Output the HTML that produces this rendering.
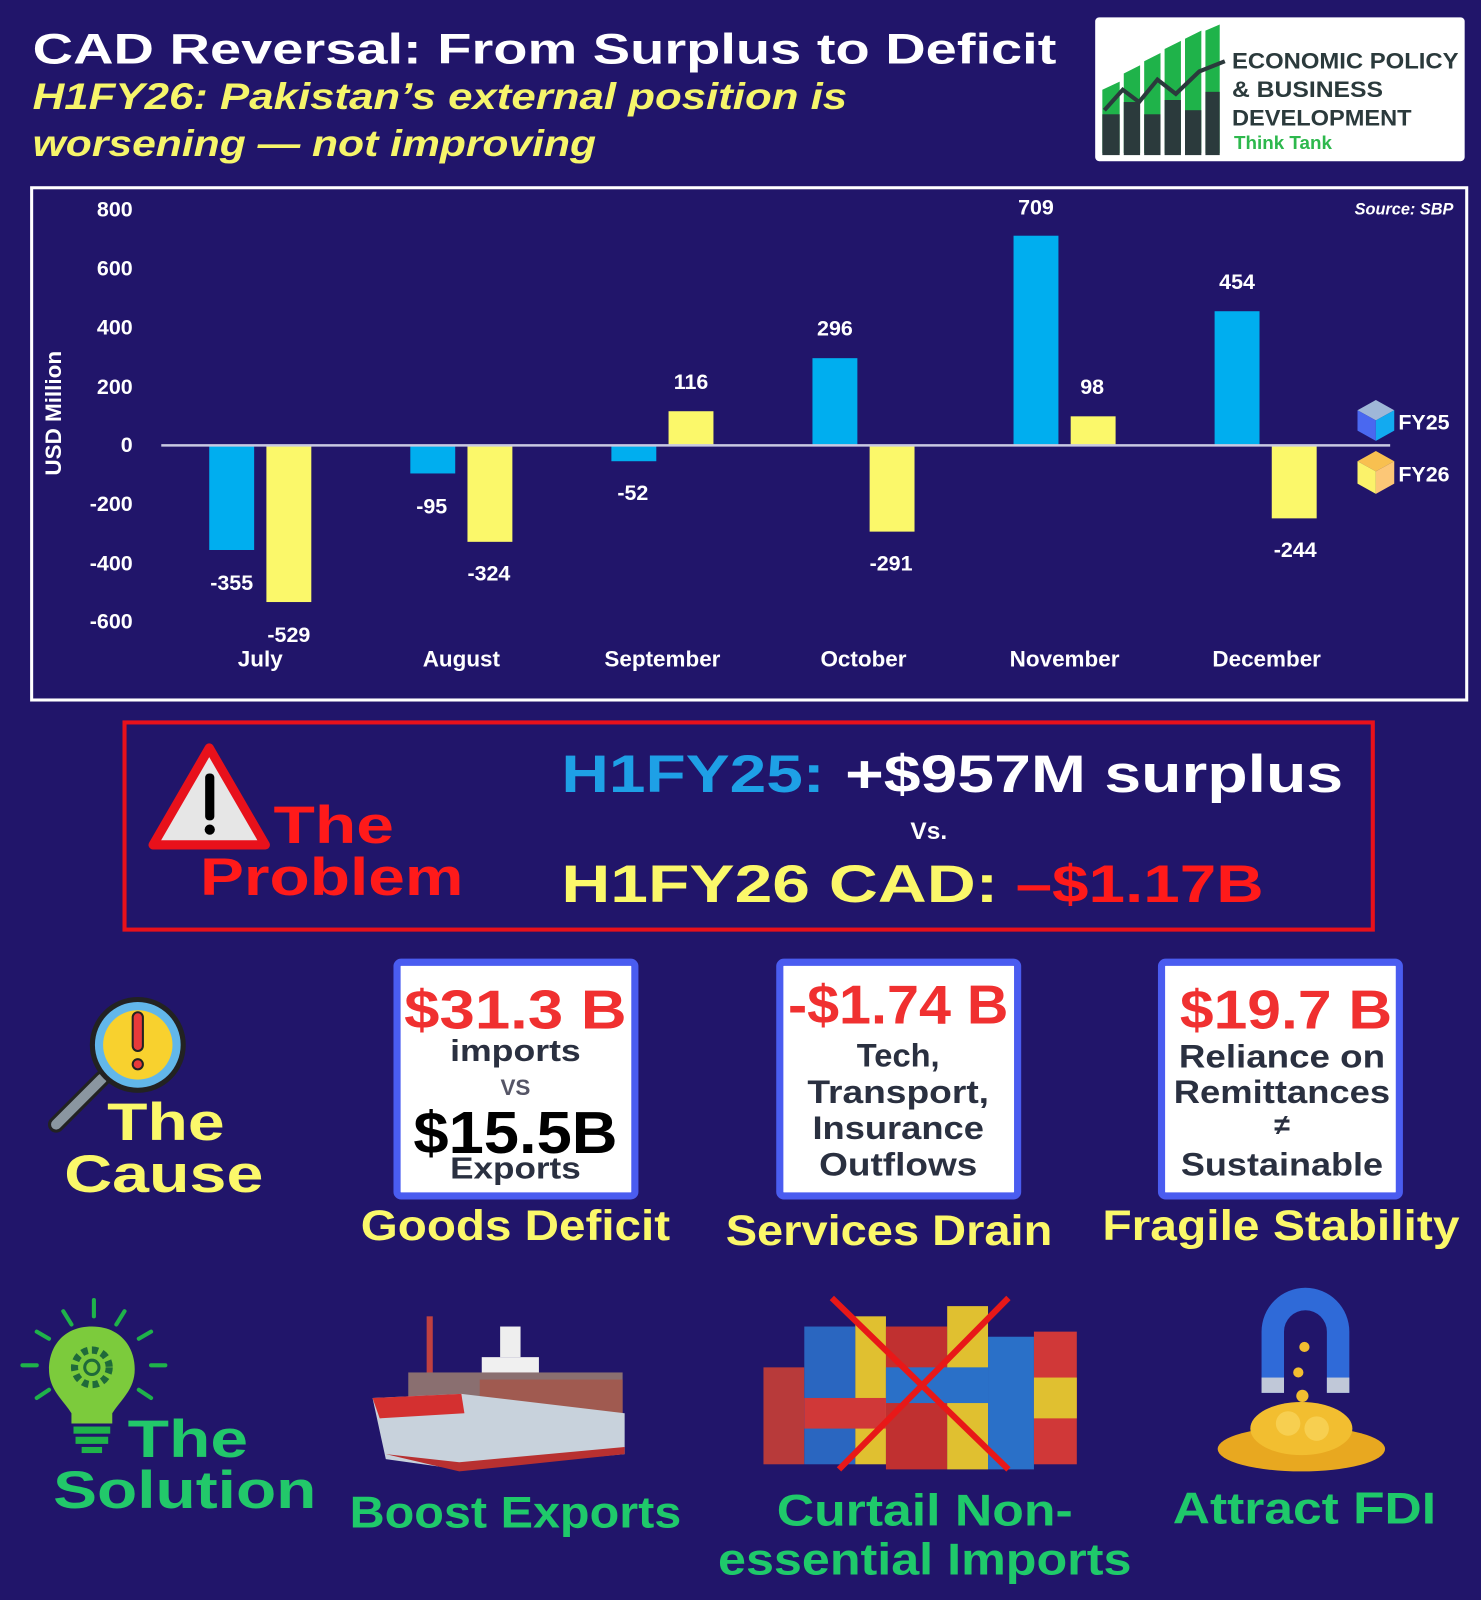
<!DOCTYPE html>
<html><head><meta charset="utf-8"><style>
html,body{margin:0;padding:0;background:#21156a;}
svg{display:block;}
text{font-family:"Liberation Sans",sans-serif;font-weight:bold;}
</style></head><body>
<svg width="1481" height="1600" viewBox="0 0 1451 1568" preserveAspectRatio="none" xmlns="http://www.w3.org/2000/svg">
<rect width="1451" height="1568" fill="#21156a"/>
<!-- Title -->
<text x="32" y="62" font-size="42" fill="#fff" textLength="1003" lengthAdjust="spacingAndGlyphs">CAD Reversal: From Surplus to Deficit</text>
<text x="32" y="107" font-size="36" font-style="italic" fill="#f6f56b" textLength="798" lengthAdjust="spacingAndGlyphs">H1FY26: Pakistan’s external position is</text>
<text x="32" y="153" font-size="36" font-style="italic" fill="#f6f56b" textLength="552" lengthAdjust="spacingAndGlyphs">worsening — not improving</text>
<!-- Logo -->
<rect x="1073" y="17" width="362" height="141" rx="4" fill="#fff"/>
<g fill="#1fb34a">
<polygon points="1080,88 1097,80 1097,150 1080,150"/>
<polygon points="1101,72 1117,64 1117,150 1101,150"/>
<polygon points="1121,60 1137,52 1137,150 1121,150"/>
<polygon points="1141,48 1157,40 1157,150 1141,150"/>
<polygon points="1161,38 1177,30 1177,150 1161,150"/>
<polygon points="1181,30 1195,24 1195,150 1181,150"/>
</g>
<g fill="#2b3a3c">
<rect x="1080" y="112" width="17" height="40"/><rect x="1101" y="100" width="16" height="52"/>
<rect x="1121" y="112" width="16" height="40"/><rect x="1141" y="98" width="16" height="54"/>
<rect x="1161" y="108" width="16" height="44"/><rect x="1181" y="90" width="14" height="62"/>
</g>
<polyline points="1082,108 1100,88 1116,100 1134,78 1152,92 1175,70 1200,60" fill="none" stroke="#2b3a3c" stroke-width="4"/>
<text x="1207" y="67" font-size="22" fill="#2b3a3c" font-family="Liberation Mono" textLength="222" lengthAdjust="spacingAndGlyphs">ECONOMIC POLICY</text>
<text x="1207" y="95" font-size="22" fill="#2b3a3c" font-family="Liberation Mono" textLength="148" lengthAdjust="spacingAndGlyphs">&amp; BUSINESS</text>
<text x="1207" y="123" font-size="22" fill="#2b3a3c" font-family="Liberation Mono" textLength="176" lengthAdjust="spacingAndGlyphs">DEVELOPMENT</text>
<text x="1209" y="146" font-size="18" fill="#2db84d" font-weight="normal" textLength="96" lengthAdjust="spacingAndGlyphs">Think Tank</text>
<!-- Chart -->
<rect x="31" y="184" width="1406" height="502" fill="none" stroke="#fff" stroke-width="3"/>
<text x="1424" y="210" font-size="16" font-style="italic" fill="#fff" text-anchor="end">Source: SBP</text>
<g font-size="21" fill="#fff" text-anchor="end">
<text x="130" y="212">800</text><text x="130" y="270">600</text><text x="130" y="328">400</text>
<text x="130" y="386">200</text><text x="130" y="443">0</text><text x="130" y="501">-200</text>
<text x="130" y="559">-400</text><text x="130" y="616">-600</text>
</g>
<text transform="translate(60,405) rotate(-90)" font-size="22" fill="#fff" text-anchor="middle">USD Million</text>
<g fill="#00aeef">
<rect x="205" y="437" width="44" height="102"/>
<rect x="402" y="437" width="44" height="27"/>
<rect x="599" y="437" width="44" height="15"/>
<rect x="796" y="351" width="44" height="85"/>
<rect x="993" y="231" width="44" height="205"/>
<rect x="1190" y="305" width="44" height="131"/>
</g>
<g fill="#fbf86a">
<rect x="261" y="437" width="44" height="153"/>
<rect x="458" y="437" width="44" height="94"/>
<rect x="655" y="403" width="44" height="33"/>
<rect x="852" y="437" width="44" height="84"/>
<rect x="1049" y="408" width="44" height="28"/>
<rect x="1246" y="437" width="44" height="71"/>
</g>
<line x1="158" y1="436.5" x2="1362" y2="436.5" stroke="#c9c9e2" stroke-width="2.5"/>
<g font-size="21" fill="#fff" text-anchor="middle">
<text x="227" y="578">-355</text><text x="283" y="629">-529</text>
<text x="423" y="503">-95</text><text x="479" y="569">-324</text>
<text x="620" y="490">-52</text><text x="677" y="381">116</text>
<text x="818" y="329">296</text><text x="873" y="559">-291</text>
<text x="1015" y="210">709</text><text x="1070" y="386">98</text>
<text x="1212" y="283">454</text><text x="1269" y="546">-244</text>
</g>
<g font-size="22" fill="#fff" text-anchor="middle">
<text x="255" y="653">July</text><text x="452" y="653">August</text><text x="649" y="653">September</text>
<text x="846" y="653">October</text><text x="1043" y="653">November</text><text x="1241" y="653">December</text>
</g>
<!-- legend cubes -->
<polygon points="1348,392 1366,402 1348,412 1330,402" fill="#9fb7d8"/>
<polygon points="1330,402 1348,412 1348,432 1330,422" fill="#4a68f0"/>
<polygon points="1348,412 1366,402 1366,422 1348,432" fill="#12aaf0"/>
<text x="1370" y="421" font-size="21" fill="#fff">FY25</text>
<polygon points="1348,442 1366,452 1348,462 1330,452" fill="#f8c050"/>
<polygon points="1330,452 1348,462 1348,484 1330,474" fill="#fbf26a"/>
<polygon points="1348,462 1366,452 1366,474 1348,484" fill="#fcc777"/>
<text x="1370" y="472" font-size="21" fill="#fff">FY26</text>
<!-- Problem -->
<rect x="122" y="708" width="1223" height="203" fill="none" stroke="#e8111b" stroke-width="4"/>
<polygon points="205,733 150,828 260,828" fill="#e6e6e6" stroke="#e8111b" stroke-width="9" stroke-linejoin="round"/>
<rect x="201" y="758" width="9" height="46" rx="4" fill="#000"/>
<circle cx="205.5" cy="813" r="5" fill="#000"/>
<text x="268" y="826" font-size="52" fill="#ff1a1a" textLength="118" lengthAdjust="spacingAndGlyphs">The</text>
<text x="196" y="877" font-size="52" fill="#ff1a1a" textLength="258" lengthAdjust="spacingAndGlyphs">Problem</text>
<text x="550" y="776" font-size="52" fill="#1ea0e6" textLength="258" lengthAdjust="spacingAndGlyphs">H1FY25:</text>
<text x="828" y="776" font-size="52" fill="#fff" textLength="488" lengthAdjust="spacingAndGlyphs">+$957M surplus</text>
<text x="910" y="822" font-size="24" fill="#fff" text-anchor="middle">Vs.</text>
<text x="550" y="884" font-size="52" fill="#fbf86a" textLength="428" lengthAdjust="spacingAndGlyphs">H1FY26  CAD:</text>
<text x="995" y="884" font-size="52" fill="#ff1a1a" textLength="243" lengthAdjust="spacingAndGlyphs">–$1.17B</text>
<!-- Cause -->
<line x1="55" y1="1102" x2="100" y2="1057" stroke="#222" stroke-width="16" stroke-linecap="round"/>
<line x1="55" y1="1102" x2="100" y2="1057" stroke="#8a96a0" stroke-width="10" stroke-linecap="round"/>
<circle cx="135" cy="1024" r="47" fill="#222"/>
<circle cx="135" cy="1024" r="42" fill="#62b7ea"/>
<circle cx="135" cy="1024" r="34" fill="#f8d12e"/>
<rect x="130" y="992" width="10" height="38" rx="5" fill="#e83a3a" stroke="#222" stroke-width="2"/>
<circle cx="135" cy="1043" r="5" fill="#e83a3a" stroke="#222" stroke-width="2"/>
<text x="105" y="1117" font-size="52" fill="#fbf86a" textLength="115" lengthAdjust="spacingAndGlyphs">The</text>
<text x="63" y="1168" font-size="52" fill="#fbf86a" textLength="195" lengthAdjust="spacingAndGlyphs">Cause</text>
<g fill="#fff" stroke="#4a5cf0" stroke-width="7">
<rect x="389" y="943" width="233" height="229" rx="4"/>
<rect x="764" y="943" width="233" height="229" rx="4"/>
<rect x="1138" y="943" width="233" height="229" rx="4"/>
</g>
<g text-anchor="middle">
<text x="505" y="1008" font-size="54" fill="#f03030" textLength="218" lengthAdjust="spacingAndGlyphs">$31.3 B</text>
<text x="505" y="1040" font-size="30" fill="#2a3040" textLength="128" lengthAdjust="spacingAndGlyphs">imports</text>
<text x="505" y="1073" font-size="22" fill="#556" font-weight="normal">VS</text>
<text x="505" y="1130" font-size="58" fill="#000" textLength="200" lengthAdjust="spacingAndGlyphs">$15.5B</text>
<text x="505" y="1155" font-size="30" fill="#2a3040" textLength="128" lengthAdjust="spacingAndGlyphs">Exports</text>
<text x="880" y="1003" font-size="54" fill="#f03030" textLength="216" lengthAdjust="spacingAndGlyphs">-$1.74 B</text>
<text x="880" y="1045" font-size="32" fill="#2a3040">Tech,</text>
<text x="880" y="1081" font-size="32" fill="#2a3040" textLength="178" lengthAdjust="spacingAndGlyphs">Transport,</text>
<text x="880" y="1116" font-size="32" fill="#2a3040" textLength="168" lengthAdjust="spacingAndGlyphs">Insurance</text>
<text x="880" y="1152" font-size="32" fill="#2a3040" textLength="155" lengthAdjust="spacingAndGlyphs">Outflows</text>
<text x="1260" y="1008" font-size="54" fill="#f03030" textLength="208" lengthAdjust="spacingAndGlyphs">$19.7 B</text>
<text x="1256" y="1046" font-size="32" fill="#2a3040" textLength="202" lengthAdjust="spacingAndGlyphs">Reliance on</text>
<text x="1256" y="1081" font-size="32" fill="#2a3040" textLength="212" lengthAdjust="spacingAndGlyphs">Remittances</text>
<text x="1256" y="1112" font-size="28" fill="#2a3040">≠</text>
<text x="1256" y="1152" font-size="32" fill="#2a3040" textLength="198" lengthAdjust="spacingAndGlyphs">Sustainable</text>
<text x="505" y="1215" font-size="42" fill="#fbf86a" textLength="303" lengthAdjust="spacingAndGlyphs">Goods Deficit</text>
<text x="871" y="1220" font-size="42" fill="#fbf86a" textLength="320" lengthAdjust="spacingAndGlyphs">Services Drain</text>
<text x="1255" y="1215" font-size="42" fill="#fbf86a" textLength="350" lengthAdjust="spacingAndGlyphs">Fragile Stability</text>
</g>
<!-- Solution -->
<g stroke="#1fb34a" stroke-width="4" stroke-linecap="round">
<line x1="92" y1="1274" x2="92" y2="1290"/><line x1="62" y1="1285" x2="70" y2="1298"/><line x1="122" y1="1285" x2="114" y2="1298"/>
<line x1="36" y1="1305" x2="48" y2="1312"/><line x1="148" y1="1305" x2="136" y2="1312"/>
<line x1="22" y1="1338" x2="36" y2="1338"/><line x1="148" y1="1338" x2="162" y2="1338"/>
<line x1="36" y1="1370" x2="48" y2="1362"/><line x1="148" y1="1370" x2="136" y2="1362"/>
</g>
<path d="M90,1300 C62,1300 48,1320 48,1342 C48,1362 62,1372 70,1385 L70,1395 L110,1395 L110,1385 C118,1372 132,1362 132,1342 C132,1320 118,1300 90,1300Z" fill="#7ccb3c"/>
<circle cx="90" cy="1340" r="17" fill="none" stroke="#1f6a3a" stroke-width="7" stroke-dasharray="6 4"/>
<circle cx="90" cy="1340" r="7" fill="#7ccb3c" stroke="#1f6a3a" stroke-width="3"/>
<rect x="72" y="1398" width="36" height="7" fill="#1fb34a"/><rect x="74" y="1408" width="32" height="7" fill="#1fb34a"/><rect x="80" y="1418" width="20" height="6" fill="#1fb34a"/>
<text x="125" y="1428" font-size="52" fill="#22c86a" textLength="118" lengthAdjust="spacingAndGlyphs">The</text>
<text x="52" y="1478" font-size="52" fill="#22c86a" textLength="258" lengthAdjust="spacingAndGlyphs">Solution</text>
<!-- Ship -->
<rect x="418" y="1290" width="6" height="90" fill="#c04040"/>
<rect x="472" y="1330" width="56" height="40" fill="#f0f0f0"/>
<rect x="490" y="1300" width="20" height="30" fill="#eee"/>
<rect x="400" y="1345" width="210" height="40" fill="#8a6f70"/>
<rect x="470" y="1352" width="140" height="60" fill="#a05a50"/>
<path d="M365,1370 L452,1366 L612,1385 L612,1425 L450,1440 L378,1430 Z" fill="#c8d2dc"/>
<path d="M365,1370 L452,1366 L455,1385 L372,1390 Z" fill="#d43030"/>
<path d="M378,1425 L450,1433 L612,1418 L612,1425 L450,1442 Z" fill="#b83030"/>
<!-- Containers -->
<g>
<rect x="748" y="1340" width="40" height="95" fill="#b83a3a"/>
<rect x="788" y="1300" width="50" height="135" fill="#2a66c0"/>
<rect x="838" y="1290" width="30" height="145" fill="#e0c030"/>
<rect x="868" y="1300" width="60" height="140" fill="#c03030"/>
<rect x="928" y="1280" width="40" height="160" fill="#e0c030"/>
<rect x="968" y="1310" width="45" height="130" fill="#2a70c8"/>
<rect x="1013" y="1305" width="42" height="130" fill="#d03838"/>
<rect x="868" y="1340" width="100" height="35" fill="#2a70c8"/>
<rect x="788" y="1370" width="80" height="30" fill="#d03838"/>
<rect x="1013" y="1350" width="42" height="40" fill="#e0c030"/>
</g>
<line x1="815" y1="1272" x2="988" y2="1440" stroke="#e81818" stroke-width="6"/>
<line x1="988" y1="1272" x2="822" y2="1440" stroke="#e81818" stroke-width="6"/>
<!-- Magnet & coins -->
<path d="M1236,1365 L1236,1305 A43,43 0 0 1 1322,1305 L1322,1365 L1300,1365 L1300,1305 A21,21 0 0 0 1258,1305 L1258,1365 Z" fill="#2f6ad8"/>
<rect x="1236" y="1350" width="22" height="15" fill="#c0c8d8"/><rect x="1300" y="1350" width="22" height="15" fill="#c0c8d8"/>
<ellipse cx="1275" cy="1420" rx="82" ry="22" fill="#e8a820"/>
<ellipse cx="1275" cy="1400" rx="50" ry="26" fill="#f2be30"/>
<circle cx="1262" cy="1395" r="12" fill="#f7cf50"/><circle cx="1290" cy="1400" r="12" fill="#f7cf50"/>
<circle cx="1278" cy="1320" r="5" fill="#f2be30"/><circle cx="1272" cy="1345" r="5" fill="#f2be30"/><circle cx="1276" cy="1368" r="6" fill="#f2be30"/>
<g text-anchor="middle" fill="#1fc96a">
<text x="505" y="1497" font-size="44" textLength="325" lengthAdjust="spacingAndGlyphs">Boost Exports</text>
<text x="906" y="1495" font-size="44" textLength="290" lengthAdjust="spacingAndGlyphs">Curtail Non-</text>
<text x="906" y="1543" font-size="44" textLength="405" lengthAdjust="spacingAndGlyphs">essential Imports</text>
<text x="1278" y="1493" font-size="44" textLength="258" lengthAdjust="spacingAndGlyphs">Attract FDI</text>
</g>
</svg>
</body></html>
